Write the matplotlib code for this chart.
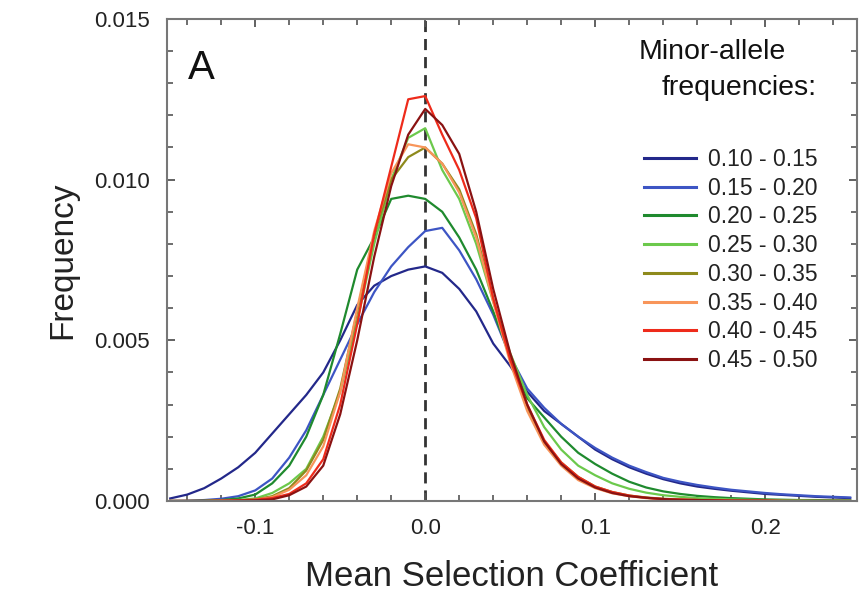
import numpy as np
import matplotlib
matplotlib.use("Agg")
import matplotlib.pyplot as plt
from matplotlib.ticker import MultipleLocator

plt.rcParams["font.family"] = ["Liberation Sans", "DejaVu Sans"]

# bin centres of the histogram (mean selection coefficient)
sel_coef = np.round(np.arange(-0.15, 0.2501, 0.01), 2)

# frequencies, in units of 1e-3
maf_10_15 = [0.08, 0.2, 0.4, 0.7, 1.05, 1.5, 2.1, 2.7, 3.3, 4.0, 5.0, 6.1, 6.7, 7.0, 7.2, 7.3,
             7.1, 6.6, 5.9, 4.9, 4.2, 3.4, 2.8, 2.4, 2.0, 1.6, 1.3, 1.05, 0.85, 0.68, 0.55,
             0.45, 0.38, 0.32, 0.27, 0.22, 0.19, 0.16, 0.13, 0.11, 0.09]
maf_15_20 = [0.0, 0.01, 0.03, 0.07, 0.15, 0.33, 0.7, 1.35, 2.2, 3.3, 4.4, 5.5, 6.5, 7.3, 7.9, 8.4,
             8.5, 7.8, 6.9, 5.8, 4.5, 3.5, 2.9, 2.4, 2.0, 1.65, 1.35, 1.1, 0.9, 0.72, 0.6,
             0.5, 0.42, 0.35, 0.3, 0.25, 0.21, 0.18, 0.15, 0.13, 0.11]
maf_20_25 = [0.0, 0.0, 0.01, 0.03, 0.08, 0.2, 0.55, 1.1, 2.0, 3.3, 5.2, 7.2, 8.2, 9.4, 9.5, 9.4,
             9.0, 8.2, 7.2, 5.9, 4.5, 3.2, 2.6, 2.0, 1.5, 1.15, 0.85, 0.6, 0.42, 0.3, 0.22,
             0.16, 0.12, 0.09, 0.07, 0.05, 0.04, 0.03, 0.03, 0.02, 0.02]
maf_25_30 = [0.0, 0.0, 0.0, 0.01, 0.03, 0.08, 0.25, 0.55, 1.0, 2.0, 3.4, 5.6, 8.0, 10.0, 11.3, 11.6,
             10.3, 9.4, 8.0, 6.2, 4.6, 3.3, 2.3, 1.6, 1.1, 0.8, 0.55, 0.38, 0.26, 0.18, 0.13,
             0.09, 0.07, 0.05, 0.04, 0.03, 0.02, 0.02, 0.01, 0.01, 0.01]
maf_30_35 = [0.0, 0.0, 0.0, 0.01, 0.02, 0.05, 0.15, 0.4, 0.95, 1.9, 3.5, 5.9, 8.3, 10.0, 10.7, 11.0,
             10.5, 9.7, 8.3, 6.3, 4.4, 2.9, 1.85, 1.2, 0.75, 0.45, 0.28, 0.17, 0.11, 0.07, 0.05,
             0.03, 0.02, 0.02, 0.01, 0.01, 0.01, 0.0, 0.0, 0.0, 0.0]
maf_35_40 = [0.0, 0.0, 0.0, 0.01, 0.02, 0.04, 0.12, 0.35, 0.8, 1.7, 3.4, 6.0, 8.4, 10.2, 11.1, 11.0,
             10.5, 9.6, 8.2, 6.2, 4.3, 2.8, 1.75, 1.1, 0.65, 0.4, 0.24, 0.15, 0.09, 0.06, 0.04,
             0.03, 0.02, 0.01, 0.01, 0.01, 0.0, 0.0, 0.0, 0.0, 0.0]
maf_40_45 = [0.0, 0.0, 0.0, 0.01, 0.02, 0.04, 0.09, 0.22, 0.55, 1.3, 3.0, 5.5, 8.3, 10.4, 12.5, 12.6,
             11.4, 10.3, 8.8, 6.3, 4.4, 3.0, 1.9, 1.2, 0.75, 0.45, 0.28, 0.17, 0.1, 0.06, 0.04,
             0.03, 0.02, 0.01, 0.01, 0.01, 0.0, 0.0, 0.0, 0.0, 0.0]
maf_45_50 = [0.0, 0.0, 0.0, 0.0, 0.01, 0.02, 0.05, 0.18, 0.45, 1.1, 2.7, 5.0, 7.6, 9.8, 11.4, 12.2,
             11.7, 10.8, 9.0, 6.6, 4.6, 3.0, 1.85, 1.15, 0.7, 0.42, 0.25, 0.15, 0.1, 0.06, 0.04,
             0.03, 0.02, 0.01, 0.01, 0.01, 0.0, 0.0, 0.0, 0.0, 0.0]

labels = ["0.10 - 0.15", "0.15 - 0.20", "0.20 - 0.25", "0.25 - 0.30",
          "0.30 - 0.35", "0.35 - 0.40", "0.40 - 0.45", "0.45 - 0.50"]
series = [maf_10_15, maf_15_20, maf_20_25, maf_25_30,
          maf_30_35, maf_35_40, maf_40_45, maf_45_50]
colors = ["#23288a", "#3d55c4", "#1f8a2e", "#6cc94c",
          "#8e8a1c", "#f8955a", "#ee2b1b", "#8a1212"]

fig = plt.figure(figsize=(8.6, 5.92), dpi=100)
ax = fig.add_axes([0.194, 0.1537, 0.8025, 0.8143])

for vals, lab, col in zip(series, labels, colors):
    ax.plot(sel_coef, np.array(vals) * 1e-3, color=col, lw=1.6, label=lab)

ax.axvline(0.0, color="#333333", lw=2, ls=(0, (4, 2.5)), zorder=0)

ax.set_xlim(-0.152, 0.254)
ax.set_ylim(0, 0.015)
ax.xaxis.set_minor_locator(MultipleLocator(0.02))
ax.yaxis.set_minor_locator(MultipleLocator(0.001))
ax.set_xticks([-0.1, 0.0, 0.1, 0.2])
ax.set_xticklabels(["-0.1", "0.0", "0.1", "0.2"])
ax.set_yticks([0, 0.005, 0.010, 0.015])
ax.set_yticklabels(["0.000", "0.005", "0.010", "0.015"])

for s in ax.spines.values():
    s.set_color("#777777")
    s.set_linewidth(1.5)
ax.tick_params(which="both", direction="in", top=True, right=True,
               color="#555555", labelsize=16, labelcolor="#222222")
ax.tick_params(which="major", length=6, width=1.3, pad=12)
ax.tick_params(which="minor", length=4, width=1.2)

ax.set_xlabel("Mean Selection Coefficient", fontsize=25, color="#222222", labelpad=15)
ax.set_ylabel("Frequency", fontsize=24, color="#222222", labelpad=12)

ax.text(0.03, 0.898, "A", transform=ax.transAxes, fontsize=29, color="#111111",
        va="center", ha="left")
fig.text(639 / 860, 1 - 52 / 592, "Minor-allele", fontsize=20.5, color="#111111",
         va="center", ha="left")
fig.text(662 / 860, 1 - 88 / 592, "frequencies:", fontsize=20.5, color="#111111",
         va="center", ha="left")

leg = ax.legend(loc="upper left", bbox_to_anchor=(644 / 860, 1 - 148 / 592),
                bbox_transform=fig.transFigure, frameon=False, fontsize=16.5,
                handlelength=2.25, handletextpad=0.55, labelspacing=0.25,
                borderpad=0, borderaxespad=0)
for t in leg.get_texts():
    t.set_color("#222222")
for h in leg.legend_handles:
    h.set_linewidth(2.2)

fig.savefig("out.png", dpi=100)
